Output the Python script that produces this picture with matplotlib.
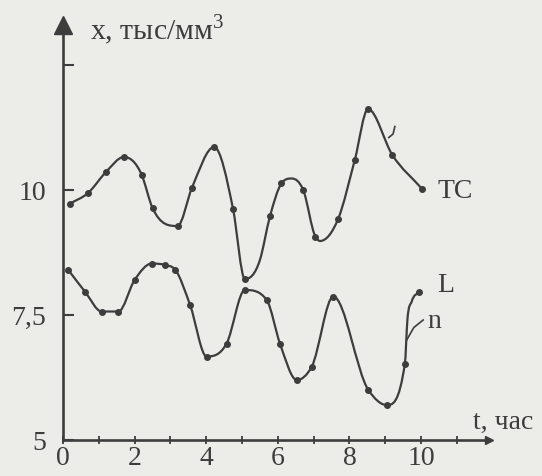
import numpy as np
import matplotlib
matplotlib.use("Agg")
import matplotlib.pyplot as plt
from matplotlib.path import Path
from matplotlib.patches import PathPatch

plt.rcParams['font.family'] = ['Liberation Serif', 'DejaVu Serif']
plt.rcParams['mathtext.fontset'] = 'custom'
plt.rcParams['mathtext.rm'] = 'Liberation Serif'

# --- data (t in hours, x in thousands per mm^3) ---
tc_t = [0.2, 0.7, 1.2, 1.7, 2.2, 2.5, 3.2, 3.6, 4.22, 4.75, 5.08, 5.5, 5.78,
        6.1, 6.39, 6.71, 7.05, 7.18, 7.69, 8.15, 8.52, 9.2, 10.02]
tc_x = [9.73, 9.94, 10.36, 10.66, 10.3, 9.64, 9.28, 10.04, 10.86, 9.62, 8.22,
        8.6, 9.47, 10.13, 10.23, 10.0, 9.07, 8.98, 9.43, 10.6, 11.62, 10.7, 10.03]
tc_dot = [1, 1, 1, 1, 1, 1, 1, 1, 1, 1, 1, 0, 1, 1, 0, 1, 1, 0, 1, 1, 1, 1, 1]

l_t = [0.15, 0.61, 1.08, 1.55, 2.0, 2.48, 2.85, 3.13, 3.55, 4.01, 4.57, 5.08,
       5.69, 6.06, 6.53, 6.95, 7.55, 8.53, 9.04, 9.55, 9.62, 9.74, 9.95]
l_x = [8.4, 7.97, 7.57, 7.57, 8.2, 8.53, 8.5, 8.41, 7.7, 6.67, 6.93, 8.0,
       7.8, 6.93, 6.2, 6.47, 7.87, 6.0, 5.7, 6.53, 7.4, 7.77, 7.97]
l_dot = [1, 1, 1, 1, 1, 1, 1, 1, 1, 1, 1, 1, 1, 1, 1, 1, 1, 1, 1, 1, 0, 0, 1]

x_ticks = list(range(0, 12))
x_labels = ['0', '', '2', '', '4', '', '6', '', '8', '', '10', '']
y_ticks = [5, 7.5, 10, 12.5]
y_labels = ['5', '7,5', '10', '']

ink = '#3d3d3d'
paper = '#ecece9'


def smooth_path(t, y):
    # cubic hermite pieces through the read points, drawn as a bezier path
    t = np.asarray(t, float)
    y = np.asarray(y, float)
    n = len(t)
    h = np.diff(t)
    d = np.diff(y) / h
    m = np.zeros(n)
    m[0], m[-1] = d[0], d[-1]
    for i in range(1, n - 1):
        if d[i-1] * d[i] <= 0:
            m[i] = 0          # turning point sits on the read point
        else:
            m[i] = (h[i]*d[i-1] + h[i-1]*d[i]) / (h[i-1] + h[i])
            lim = 3 * min(abs(d[i-1]), abs(d[i]))
            m[i] = np.sign(m[i]) * min(abs(m[i]), lim)
    verts = [(t[0], y[0])]
    codes = [Path.MOVETO]
    for i in range(n - 1):
        verts += [(t[i] + h[i]/3, y[i] + m[i]*h[i]/3),
                  (t[i+1] - h[i]/3, y[i+1] - m[i+1]*h[i]/3),
                  (t[i+1], y[i+1])]
        codes += [Path.CURVE4] * 3
    return Path(verts, codes)


fig = plt.figure(figsize=(5.42, 4.76), dpi=100, facecolor=paper)
ax = fig.add_axes([0, 0, 1, 1])
ax.set_facecolor(paper)
ax.set_xlim(-1.76, 13.38)
ax.set_ylim(4.28, 13.8)

for tt, xx, dd in [(tc_t, tc_x, tc_dot), (l_t, l_x, l_dot)]:
    ax.add_patch(PathPatch(smooth_path(tt, xx), fill=False, ec=ink, lw=1.6))
    pts = [(a, b) for a, b, k in zip(tt, xx, dd) if k]
    ax.plot([p[0] for p in pts], [p[1] for p in pts], 'o', ms=4, color=ink)

# axes drawn as arrows
for s in ['top', 'right']:
    ax.spines[s].set_visible(False)
ax.spines['left'].set_position(('data', 0))
ax.spines['bottom'].set_position(('data', 5))
ax.spines['left'].set_bounds(5, 13.3)
ax.spines['bottom'].set_bounds(0, 11.9)
for s in ['left', 'bottom']:
    ax.spines[s].set_color(ink)
    ax.spines[s].set_linewidth(1.9)
ax.plot([0], [13.3], marker='^', ms=13, color=ink, clip_on=False)
ax.plot([11.9], [5], marker='>', ms=6, color=ink, clip_on=False)

ax.set_xticks(x_ticks)
ax.set_xticklabels(x_labels)
ax.set_yticks(y_ticks)
ax.set_yticklabels(y_labels)
ax.tick_params(axis='x', direction='inout', length=6, width=1.3, color=ink,
               labelsize=20, labelcolor=ink, pad=1)
ax.tick_params(axis='y', direction='in', length=8, width=1.5, color=ink,
               labelsize=20, labelcolor=ink, pad=12)

ax.text(0.75, 13.2, 'x, тыс/мм$^{3}$', fontsize=21.5, color=ink, va='center', ha='left')
ax.text(11.45, 5.36, 't, час', fontsize=20, color=ink, va='center', ha='left')
ax.text(10.45, 9.96, 'TC', fontsize=20, color=ink, va='center', ha='left')
ax.text(10.45, 8.1, 'L', fontsize=20, color=ink, va='center', ha='left')
ax.text(10.17, 7.38, 'n', fontsize=20, color=ink, va='center', ha='left')
ax.plot([9.6, 9.8, 10.06], [7.0, 7.25, 7.4], color=ink, lw=1.2)
ax.plot([9.1, 9.22, 9.27], [11.05, 11.12, 11.27], color=ink, lw=1.2)

fig.savefig('out.png', dpi=100, facecolor=paper)
